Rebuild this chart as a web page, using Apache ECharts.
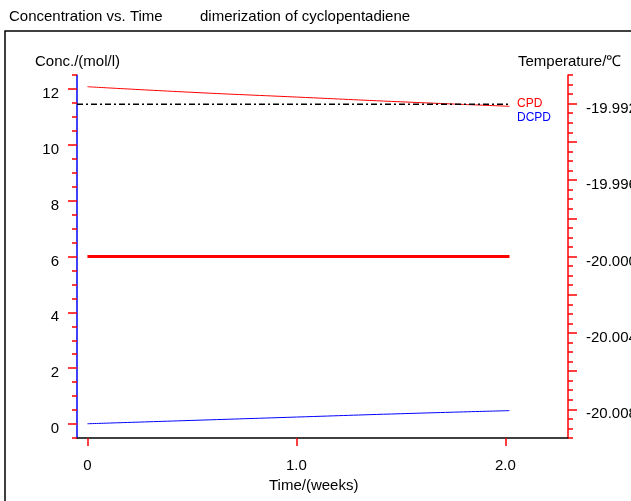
<!DOCTYPE html>
<html>
<head>
<meta charset="utf-8">
<script src="https://cdn.jsdelivr.net/npm/echarts@6/dist/echarts.min.js"></script>
<style>
  html, body { margin: 0; padding: 0; background: #fff; }
  #chart { width: 631px; height: 501px; }
</style>
</head>
<body>
<div id="chart"></div>
<script>
// data
var weeks = [0, 0.5, 1.0, 1.5, 2.02];
var cpd = [12.08, 11.88, 11.71, 11.54, 11.38];
var dcpd = [0.01, 0.13, 0.25, 0.37, 0.48];
var refWeeks = [-0.05, 2.02];
var refConc = [11.45, 11.45];
var tempWeeks = [0, 2.02];
var temperature = [-20.000, -20.000];

var timeLabels = [0, 1, 2];
var concLabels = [0, 2, 4, 6, 8, 10, 12];
var tempLabels = [-20.008, -20.004, -20.000, -19.996, -19.992];
var tempMajor = [-20.008, -20.006, -20.004, -20.002, -20.000, -19.998, -19.996, -19.994, -19.992];

// minor ticks
var concMinor = [];
for (var i = -1; i <= 25; i++) { concMinor.push(i * 0.5); }
var tempMinor = [];
for (var j = 0; j <= 38; j++) { tempMinor.push(Math.round((-20.0095 + j * 0.0005) * 10000) / 10000); }

var font = 'Liberation Sans, Arial, sans-serif';

function pairs(xs, ys) {
  return xs.map(function (x, k) { return [x, ys[k]]; });
}

var chart = echarts.init(document.getElementById('chart'));

var option = {
  animation: false,
  textStyle: { fontFamily: font },
  title: [
    { text: 'Concentration vs. Time', left: 9, top: 9, padding: 0,
      textStyle: { fontSize: 15, fontWeight: 'normal', color: '#000', fontFamily: font } },
    { text: 'dimerization of cyclopentadiene', left: 200, top: 9, padding: 0,
      textStyle: { fontSize: 15, fontWeight: 'normal', color: '#000', fontFamily: font } }
  ],
  legend: {
    orient: 'vertical',
    left: 507, top: 93,
    itemWidth: 0, itemHeight: 0, itemGap: 2,
    icon: 'rect',
    data: [
      { name: 'CPD', textStyle: { color: '#ff0000' } },
      { name: 'DCPD', textStyle: { color: '#0000ff' } }
    ],
    textStyle: { fontSize: 12, fontFamily: font }
  },
  grid: { left: 77, right: 63, top: 75, bottom: 63, outerBoundsMode: 'none' },
  graphic: [
    { type: 'rect', shape: { x: 5, y: 31, width: 700, height: 600 },
      style: { fill: 'none', stroke: '#000', lineWidth: 1.5 }, silent: true },
    { type: 'text', left: 35, top: 54,
      style: { text: 'Conc./(mol/l)', font: '15px ' + font, fill: '#000' } },
    { type: 'text', left: 518, top: 54,
      style: { text: 'Temperature/℃', font: '15px ' + font, fill: '#000' } },
    { type: 'text', left: 269, top: 478,
      style: { text: 'Time/(weeks)', font: '15px ' + font, fill: '#000' } }
  ],
  xAxis: {
    type: 'value', min: -0.05, max: 2.3,
    splitLine: { show: false },
    axisLine: { onZero: false, lineStyle: { color: '#000', width: 1.5 } },
    axisTick: { customValues: timeLabels, length: 8, lineStyle: { color: '#ff0000', width: 1.5 } },
    axisLabel: {
      customValues: timeLabels, margin: 20, fontSize: 15, color: '#000',
      formatter: function (v) { return v === 0 ? '0' : v.toFixed(1); }
    }
  },
  yAxis: [
    {
      type: 'value', position: 'left', min: -0.5, max: 12.5,
      splitLine: { show: false },
      axisLine: { show: true, onZero: false, lineStyle: { color: '#0000ff', width: 1.5 } },
      axisTick: { customValues: concMinor, length: 5, lineStyle: { color: '#ff0000', width: 1.5 } },
      axisLabel: { customValues: concLabels, margin: 18, fontSize: 15, color: '#000',
        verticalAlign: 'top', lineHeight: 10 }
    },
    {
      type: 'value', position: 'left', min: -0.5, max: 12.5,
      splitLine: { show: false },
      axisLine: { show: false, onZero: false },
      axisTick: { customValues: concLabels, length: 9, lineStyle: { color: '#ff0000', width: 1.5 } },
      axisLabel: { show: false }
    },
    {
      type: 'value', position: 'right', min: -20.0095, max: -19.9905,
      splitLine: { show: false },
      axisLine: { show: true, onZero: false, lineStyle: { color: '#ff0000', width: 1.5 } },
      axisTick: { customValues: tempMinor, length: 5, lineStyle: { color: '#ff0000', width: 1.5 } },
      axisLabel: {
        customValues: tempLabels, margin: 18, fontSize: 15, color: '#000',
        verticalAlign: 'top', lineHeight: 10,
        formatter: function (v) { return v.toFixed(3); }
      }
    },
    {
      type: 'value', position: 'right', min: -20.0095, max: -19.9905,
      splitLine: { show: false },
      axisLine: { show: false, onZero: false },
      axisTick: { customValues: tempMajor, length: 9, lineStyle: { color: '#ff0000', width: 1.5 } },
      axisLabel: { show: false }
    }
  ],
  series: [
    {
      name: 'CPD', type: 'line', yAxisIndex: 0, smooth: true, showSymbol: false,
      color: '#ff0000', lineStyle: { color: '#ff0000', width: 1 },
      data: pairs(weeks, cpd)
    },
    {
      name: 'DCPD', type: 'line', yAxisIndex: 0, smooth: true, showSymbol: false,
      color: '#0000ff', lineStyle: { color: '#0000ff', width: 1 },
      data: pairs(weeks, dcpd)
    },
    {
      name: 'ref', type: 'line', yAxisIndex: 0, showSymbol: false,
      lineStyle: { color: '#000', width: 1.5, type: [6, 3, 2, 3] },
      data: pairs(refWeeks, refConc)
    },
    {
      name: 'Temperature', type: 'line', yAxisIndex: 2, showSymbol: false,
      lineStyle: { color: '#ff0000', width: 3 },
      data: pairs(tempWeeks, temperature)
    }
  ]
};

chart.setOption(option);
</script>
</body>
</html>
